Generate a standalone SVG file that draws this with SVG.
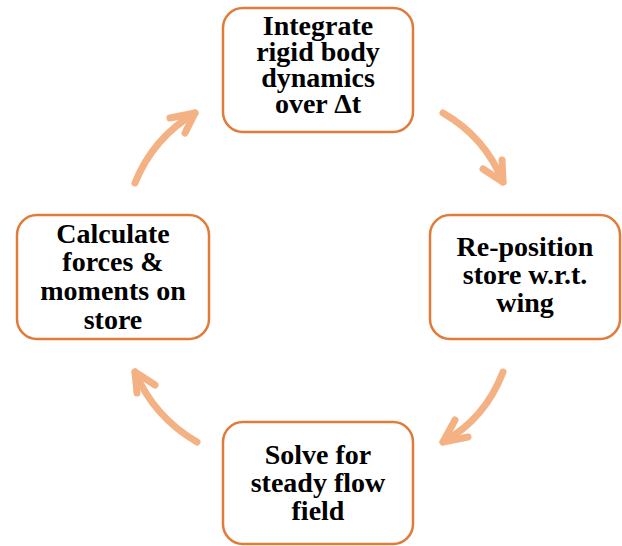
<svg xmlns="http://www.w3.org/2000/svg" width="622" height="546" viewBox="0 0 622 546">
<style>
.box{fill:#fff;stroke:#E07B39;stroke-width:2.5}
.t{font-family:"Liberation Serif","Times New Roman",serif;font-weight:bold;font-size:28px;fill:#000;text-anchor:middle}
.arr{fill:none;stroke:#F4B183;stroke-width:7;stroke-linecap:round;stroke-linejoin:round}
</style>
<rect width="622" height="546" fill="#fff"/>
<g id="connectors">
<path class="arr" d="M443,113 Q485,137 503,182"/>
<polyline class="arr" points="502,160 503,182 483,169"/>
<path class="arr" d="M503,372 Q485,419 443,442"/>
<polyline class="arr" points="455,420 443,442 468,437"/>
<path class="arr" d="M197,442 Q154,417 135,372"/>
<polyline class="arr" points="155,385 135,372 137,393"/>
<path class="arr" d="M135,183 Q153,138 195,113"/>
<polyline class="arr" points="170,118 195,113 185,133"/>
</g>
<g id="integrate">
<rect class="box" x="223" y="8" width="190" height="124" rx="20"/>
<text class="t" x="318" y="35">Integrate</text>
<text class="t" x="318" y="61">rigid body</text>
<text class="t" x="318" y="87">dynamics</text>
<text class="t" x="318" y="113">over Δt</text>
</g>
<g id="reposition">
<rect class="box" x="430" y="215" width="190" height="124" rx="20"/>
<text class="t" x="525" y="256">Re-position</text>
<text class="t" x="525" y="284">store w.r.t.</text>
<text class="t" x="525" y="312">wing</text>
</g>
<g id="solve">
<rect class="box" x="223" y="422" width="190" height="122" rx="20"/>
<text class="t" x="318" y="464">Solve for</text>
<text class="t" x="318" y="492">steady flow</text>
<text class="t" x="318" y="520">field</text>
</g>
<g id="calculate">
<rect class="box" x="17" y="215" width="192" height="124" rx="20"/>
<text class="t" x="113" y="243">Calculate</text>
<text class="t" x="113" y="271">forces &amp;</text>
<text class="t" x="113" y="300">moments on</text>
<text class="t" x="113" y="329">store</text>
</g>
</svg>
